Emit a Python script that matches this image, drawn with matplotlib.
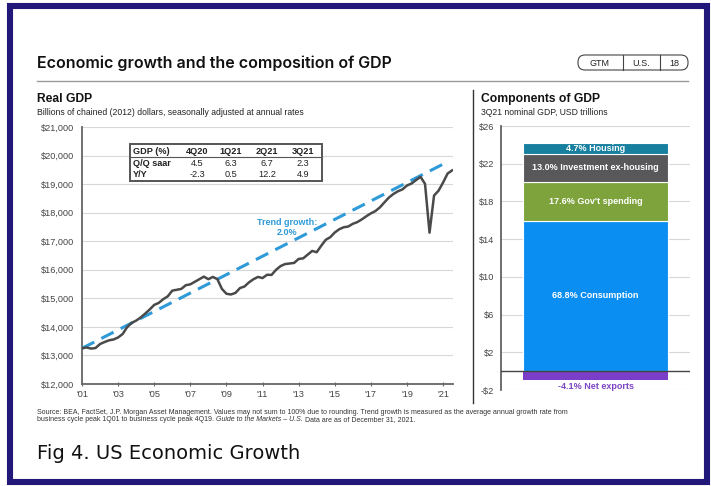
import matplotlib
matplotlib.use("Agg")
import matplotlib.pyplot as plt
from matplotlib.patches import Rectangle, FancyBboxPatch
from matplotlib.lines import Line2D
from matplotlib.transforms import IdentityTransform
import numpy as np

W, H = 711, 486

# ---- Real GDP, billions of chained 2012 dollars (1Q01 .. 3Q21) ----
gdp_real = [
    13250, 13280, 13240, 13260,   # 2001
    13400, 13470, 13530, 13560,   # 2002
    13630, 13750, 13990, 14140,   # 2003
    14220, 14330, 14465, 14610,   # 2004
    14770, 14840, 14970, 15070,   # 2005
    15270, 15300, 15330, 15460,   # 2006
    15490, 15580, 15670, 15760,   # 2007
    15670, 15750, 15670, 15330,   # 2008
    15160, 15135, 15190, 15360,   # 2009
    15415, 15560, 15670, 15750,   # 2010
    15710, 15825, 15820, 16000,   # 2011
    16130, 16200, 16220, 16240,   # 2012
    16380, 16400, 16530, 16660,   # 2013
    16615, 16840, 17050, 17140,   # 2014
    17305, 17420, 17490, 17515,   # 2015
    17610, 17670, 17765, 17875,   # 2016
    17975, 18055, 18185, 18360,   # 2017
    18530, 18655, 18750, 18815,   # 2018
    18950, 19020, 19140, 19255,   # 2019
    19010, 17300, 18600, 18770,   # 2020
    19055, 19370, 19480,          # 2021
]
first_year = 2001
trend_years = [2001.0, 2021.25]
trend_values = [13250, 19780]

table_cols = ["GDP (%)", "4Q20", "1Q21", "2Q21", "3Q21"]
table_rows = [["Q/Q saar", "4.5", "6.3", "6.7", "2.3"],
              ["Y/Y", "-2.3", "0.5", "12.2", "4.9"]]

# ---- Components of 3Q21 nominal GDP ----
nominal_gdp_total = 23.2   # USD trillions
comp_names = ["Consumption", "Gov't spending", "Investment ex-housing", "Housing"]
comp_pct = [68.8, 17.6, 13.0, 4.7]
comp_colors = ["#0b8ef2", "#7ea33c", "#58585a", "#17809f"]
net_exports_pct = -4.1
net_exports_color = "#7a3ec9"

SANS = "Liberation Sans"
plt.rcParams["font.family"] = [SANS, "DejaVu Sans"]

fig = plt.figure(figsize=(W / 100, H / 100), dpi=100)


def fx(px):
    return px / W


def fy(py):
    return 1 - py / H


def axes_px(x0, y0, x1, y1):
    return fig.add_axes([fx(x0), fy(y1), fx(x1) - fx(x0), fy(y0) - fy(y1)])


# ---- page frame ----
fig.patches.append(Rectangle((fx(10), fy(482)), fx(707) - fx(10), fy(6) - fy(482),
                             transform=fig.transFigure, fill=False,
                             edgecolor="#22187a", linewidth=4.4, zorder=10))

# ---- header ----
fig.text(fx(37), fy(63), "Economic growth and the composition of GDP",
         fontsize=11.5, family=["Inter", "DejaVu Sans"], weight="semibold",
         color="#111111", va="center", ha="left")
fig.add_artist(Line2D([fx(37), fx(688)], [fy(81), fy(81)], transform=fig.transFigure,
                      color="#9a9a9a", lw=1.0))
# pill-shaped badge, drawn in pixel units
badge = FancyBboxPatch((578, H - 70), 110, 15,
                       boxstyle="round,pad=0,rounding_size=7",
                       transform=IdentityTransform(), fill=False,
                       edgecolor="#444444", lw=0.8)
fig.patches.append(badge)
for xd in (623, 660):
    fig.add_artist(Line2D([fx(xd), fx(xd)], [fy(55), fy(70)], transform=fig.transFigure,
                          color="#444444", lw=0.8))
for xt, t in ((600, "GTM"), (641, "U.S."), (674, "18")):
    fig.text(fx(xt), fy(63), t, fontsize=6.5, family=[SANS, "DejaVu Sans"],
             color="#222222", ha="center", va="center")

# divider between the two panels
fig.add_artist(Line2D([fx(473), fx(473)], [fy(90), fy(403)], transform=fig.transFigure,
                      color="#333333", lw=1.0))

# ---- left panel: Real GDP ----
fig.text(fx(37), fy(99), "Real GDP", fontsize=8.7, weight="bold", color="#111111",
         va="center")
fig.text(fx(37), fy(112), "Billions of chained (2012) dollars, seasonally adjusted at annual rates",
         fontsize=6.2, color="#222222", va="center")

ax = axes_px(82, 127, 453, 384)
quarters = first_year + np.arange(len(gdp_real)) / 4.0
ax.set_xlim(2001.0, 2021.55)
ax.set_ylim(12000, 21000)
yt = list(range(12000, 21001, 1000))
ax.set_yticks(yt)
ax.set_yticklabels([f"${v:,}" for v in yt])
xt = list(range(2001, 2022, 2))
ax.set_xticks(xt)
ax.set_xticklabels([f"'{y % 100:02d}" for y in xt])
ax.tick_params(axis="y", length=0, pad=5.5, labelsize=6.6, labelcolor="#444444")
ax.tick_params(axis="x", length=3, direction="inout", width=0.8, color="#666666",
               pad=3, labelsize=6.6, labelcolor="#444444")
ax.grid(axis="y", color="#d8d8d8", lw=0.8)
ax.set_axisbelow(True)
for s in ("top", "right"):
    ax.spines[s].set_visible(False)
for s in ("left", "bottom"):
    ax.spines[s].set_color("#666666")
    ax.spines[s].set_linewidth(1.3)

ax.plot(trend_years, trend_values, color="#2e9ad8", lw=2.2, dashes=(4.5, 2.6), zorder=3)
ax.plot(quarters, gdp_real, color="#4a4a4a", lw=1.8, zorder=4, solid_joinstyle="round")
ax.text(2012.35, 17480, "Trend growth:\n2.0%", color="#2e9ad8", fontsize=6.5,
        weight="bold", ha="center", va="center", linespacing=1.25)

# inset table
fig.patches.append(Rectangle((fx(130), fy(181)), fx(322) - fx(130), fy(144) - fy(181),
                             transform=fig.transFigure, facecolor="white",
                             edgecolor="#555555", lw=1.4, zorder=5))
fig.add_artist(Line2D([fx(130), fx(322)], [fy(157), fy(157)], transform=fig.transFigure,
                      color="#555555", lw=0.8, zorder=6))
col_x = [133, 197, 231, 267, 303]
row_y = [151, 163, 174]
for j, c in enumerate(table_cols):
    fig.text(fx(col_x[j]), fy(row_y[0]), c, fontsize=6.6, weight="bold", color="#222222",
             ha="left" if j == 0 else "center", va="center", zorder=7)
for i, row in enumerate(table_rows):
    for j, c in enumerate(row):
        fig.text(fx(col_x[j]), fy(row_y[i + 1]), c, fontsize=6.6,
                 weight="bold" if j == 0 else "normal", color="#222222",
                 ha="left" if j == 0 else "center", va="center", zorder=7)

# ---- right panel: Components of GDP ----
fig.text(fx(481), fy(99), "Components of GDP", fontsize=8.7, weight="bold",
         color="#111111", va="center")
fig.text(fx(481), fy(112), "3Q21 nominal GDP, USD trillions", fontsize=6.2,
         color="#222222", va="center")

ax2 = axes_px(501, 126, 690, 390)
ax2.set_xlim(-0.652, 0.652)
ax2.set_ylim(-2, 26)
yt2 = list(range(-2, 27, 4))
ax2.set_yticks(yt2)
ax2.set_yticklabels([f"${v}" if v >= 0 else f"-${-v}" for v in yt2])
ax2.set_xticks([])
ax2.tick_params(axis="y", length=0, pad=5, labelsize=6.6, labelcolor="#444444")
ax2.grid(axis="y", color="#d8d8d8", lw=0.8)
ax2.set_axisbelow(True)
for s in ("top", "right", "bottom"):
    ax2.spines[s].set_visible(False)
ax2.spines["left"].set_color("#555555")
ax2.spines["left"].set_linewidth(1.2)

bottom = 0.0
for name, pct, col in zip(comp_names, comp_pct, comp_colors):
    h = pct / 100 * nominal_gdp_total
    ax2.bar(0, h, width=1.0, bottom=bottom, color=col, edgecolor="white", lw=0.8, zorder=3)
    ax2.text(0, bottom + h / 2, f"{pct:.1f}% {name}", color="white", fontsize=6.5,
             weight="bold", ha="center", va="center", zorder=4)
    bottom += h
nx = net_exports_pct / 100 * nominal_gdp_total
ax2.bar(0, nx, width=1.0, bottom=0, color=net_exports_color, lw=0, zorder=3)
ax2.axhline(0, color="#444444", lw=1.0, zorder=5)
ax2.text(0, -1.68, f"{net_exports_pct:.1f}% Net exports", color="#7b44c4", fontsize=6.5,
         weight="bold", ha="center", va="center", zorder=4)

# ---- footnote ----
foot1 = ("Source: BEA, FactSet, J.P. Morgan Asset Management. Values may not sum to 100% due to "
         "rounding. Trend growth is measured as the average annual growth rate from")
fig.text(fx(37), fy(412), foot1, fontsize=5.0, color="#333333", va="center")
pieces = [("business cycle peak 1Q01 to business cycle peak 4Q19. ", "normal"),
          ("Guide to the Markets – U.S.", "italic"),
          (" Data are as of December 31, 2021.", "normal")]
renderer = fig.canvas.get_renderer()
xpos = fx(37)
for txt, style in pieces:
    t = fig.text(xpos, fy(419.5), txt, fontsize=5.0, style=style, color="#333333", va="center")
    bb = t.get_window_extent(renderer=renderer)
    xpos += bb.width / W

fig.text(fx(37), fy(453), "Fig 4. US Economic Growth", fontsize=14,
         family=["DejaVu Sans"], color="#111111", va="center")

fig.savefig("out.png", dpi=100)
